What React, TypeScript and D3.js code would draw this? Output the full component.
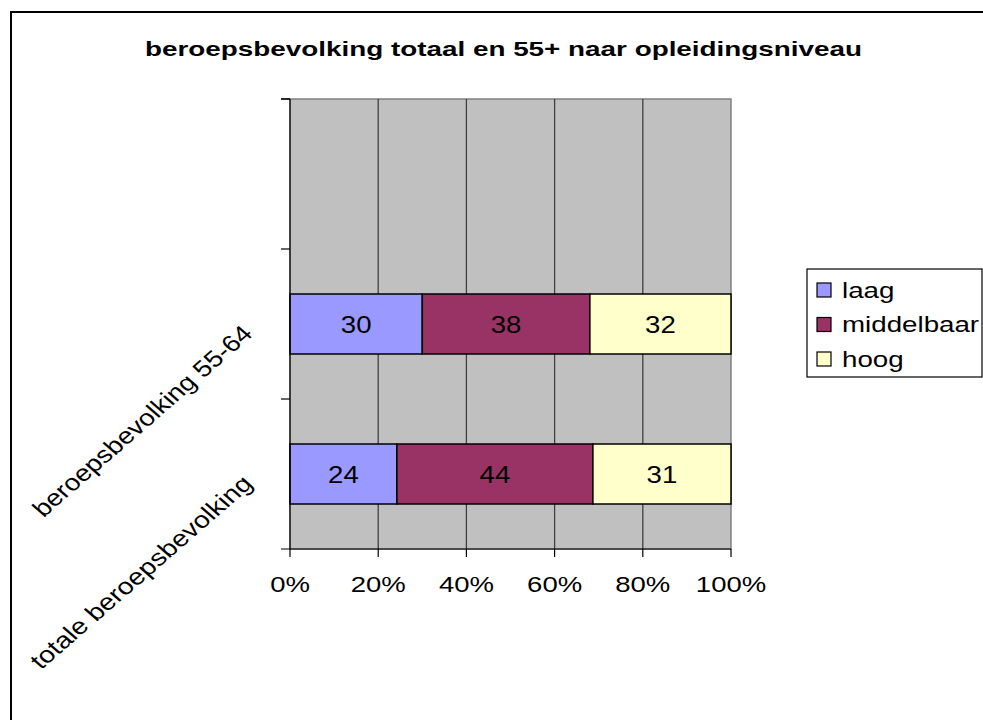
import React from "react";
import * as d3 from "d3";

const categories = ["totale beroepsbevolking", "beroepsbevolking 55-64", ""];
const seriesNames = ["laag", "middelbaar", "hoog"];
const laag = [24, 30, null];
const middelbaar = [44, 38, null];
const hoog = [31, 32, null];
const seriesColors = ["#9999FF", "#993366", "#FFFFCC"];
const xTicks = [0, 0.2, 0.4, 0.6, 0.8, 1.0];
const title = "beroepsbevolking totaal en 55+ naar opleidingsniveau";

const W = 983;
const H = 720;
const SX = 1.25;
const FONT = "'Liberation Sans', Arial, Helvetica, sans-serif";

export default function App() {
  const plot = { left: 290, right: 731, top: 99, bottom: 549 };
  const x = d3.scaleLinear().domain([0, 1]).range([plot.left, plot.right]);
  const y = d3
    .scaleBand<string>()
    .domain(categories)
    .range([plot.bottom, plot.top])
    .paddingInner(0.6)
    .paddingOuter(0.3);
  const step = y.step();
  const bandTops = categories.map((c) => (y(c) as number) - (step - y.bandwidth()) / 2);
  const yTickPos = [...bandTops, plot.top].sort((a, b) => a - b);

  const seriesValues = [laag, middelbaar, hoog];
  const rows = categories.map((c, i) => {
    const vals = seriesValues.map((s) => s[i]);
    if (vals.some((v) => v == null)) return null;
    const total = d3.sum(vals as number[]);
    const stack: { key: string; x0: number; x1: number; v: number; color: string }[] = [];
    let acc = 0;
    vals.forEach((v, k) => {
      const x0 = acc / total;
      acc += v as number;
      stack.push({ key: seriesNames[k], x0, x1: acc / total, v: v as number, color: seriesColors[k] });
    });
    return { cat: c, stack };
  });

  const legend = { x: 807, y: 269, w: 175, h: 108 };
  const legendRowY = d3.scalePoint<string>().domain(seriesNames).range([290, 359]);

  return (
    <svg
      width={W}
      height={H}
      style={{ position: "fixed", left: 0, top: 0, background: "#fff" }}
      fontFamily={FONT}
    >
      {/* outer frame */}
      <rect x={11} y={12} width={W + 20} height={H + 20} fill="#fff" stroke="#000" strokeWidth={2} />

      {/* title */}
      <text
        x={(145 + 862) / 2}
        y={56}
        textAnchor="middle"
        fontSize={21}
        fontWeight="bold"
        textLength={717}
        lengthAdjust="spacingAndGlyphs"
      >
        {title}
      </text>

      {/* plot area */}
      <rect
        x={plot.left}
        y={plot.top}
        width={plot.right - plot.left}
        height={plot.bottom - plot.top}
        fill="#C0C0C0"
        stroke="#808080"
        strokeWidth={1.5}
      />
      {xTicks.slice(1, -1).map((t) => (
        <line key={t} x1={x(t)} x2={x(t)} y1={plot.top} y2={plot.bottom} stroke="#404040" strokeWidth={1.3} />
      ))}

      {/* bars */}
      {rows.map(
        (r) =>
          r &&
          r.stack.map((s) => {
            const by = y(r.cat) as number;
            const bh = y.bandwidth();
            const cx = (x(s.x0) + x(s.x1)) / 2;
            return (
              <g key={r.cat + s.key}>
                <rect
                  x={x(s.x0)}
                  y={by}
                  width={x(s.x1) - x(s.x0)}
                  height={bh}
                  fill={s.color}
                  stroke="#000"
                  strokeWidth={1.5}
                />
                <text
                  transform={`translate(${cx},${by + bh / 2 + 9}) scale(1.15,1)`}
                  textAnchor="middle"
                  fontSize={24}
                  fill="#000"
                >
                  {s.v}
                </text>
              </g>
            );
          })
      )}

      {/* axes */}
      <line x1={plot.left} x2={plot.left} y1={plot.top} y2={plot.bottom} stroke="#000" strokeWidth={1.2} />
      <line x1={plot.left - 9} x2={plot.right} y1={plot.bottom} y2={plot.bottom} stroke="#000" strokeWidth={1.2} />
      {yTickPos.map((p) => (
        <line key={p} x1={plot.left - 9} x2={plot.left} y1={p} y2={p} stroke="#000" strokeWidth={1.2} />
      ))}
      {xTicks.map((t) => (
        <g key={t}>
          <line x1={x(t)} x2={x(t)} y1={plot.bottom} y2={plot.bottom + 8} stroke="#000" strokeWidth={1.2} />
          <text
            transform={`translate(${x(t)},${plot.bottom + 43}) scale(${SX},1)`}
            textAnchor="middle"
            fontSize={22}
          >
            {d3.format(".0%")(t)}
          </text>
        </g>
      ))}

      {/* category labels */}
      {categories.map((c) =>
        c ? (
          <text
            key={c}
            transform={`translate(${plot.left - 36},${(y(c) as number) + y.bandwidth() / 2 + 11}) scale(1.15,1) rotate(-45)`}
            textAnchor="end"
            fontSize={23}
            textLength={c.length > 22 ? 262 : 259}
            lengthAdjust="spacingAndGlyphs"
          >
            {c}
          </text>
        ) : null
      )}

      {/* legend */}
      <rect x={legend.x} y={legend.y} width={legend.w} height={legend.h} fill="#fff" stroke="#000" strokeWidth={1.2} />
      {seriesNames.map((n, i) => {
        const cy = legendRowY(n) as number;
        return (
          <g key={n}>
            <rect x={817} y={cy - 7} width={14} height={14} fill={seriesColors[i]} stroke="#000" strokeWidth={1.2} />
            <text transform={`translate(842,${cy + 7.5}) scale(1.26,1)`} fontSize={22}>
              {n}
            </text>
          </g>
        );
      })}
    </svg>
  );
}
